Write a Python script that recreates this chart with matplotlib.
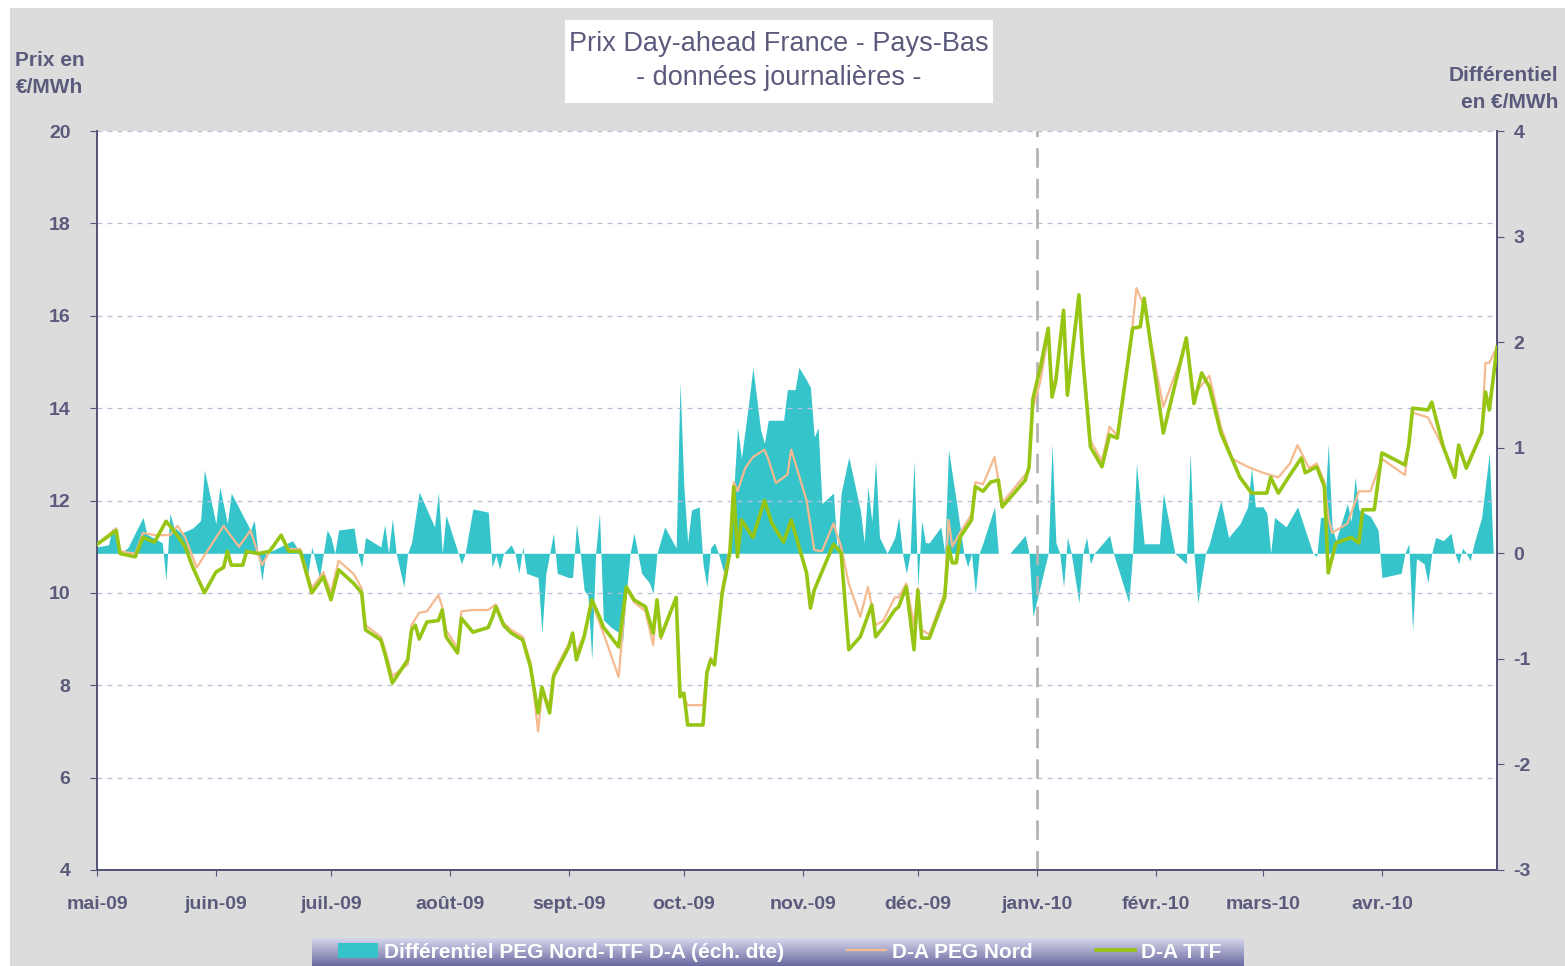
import matplotlib
matplotlib.use("Agg")
import matplotlib.pyplot as plt
from matplotlib.patches import Rectangle
from matplotlib.colors import LinearSegmentedColormap
import numpy as np
import pandas as pd

plt.rcParams["axes.unicode_minus"] = False

# ── data (days since 1 May 2009) ──
start = pd.Timestamp("2009-05-01")

ttf_day = [0, 5, 6, 10, 12, 15, 18, 20, 23, 25,
           28, 31, 33, 34, 35, 38, 39, 42, 45, 48,
           50, 53, 56, 59, 61, 63, 67, 69, 70, 74,
           75, 77, 81, 82, 83, 84, 86, 89, 90, 91,
           94, 95, 98, 102, 103, 104, 106, 108, 111, 113,
           115, 116, 118, 119, 123, 124, 125, 127, 129, 131,
           132, 136, 138, 140, 143, 145, 146, 147, 151, 152,
           153, 154, 158, 159, 160, 161, 163, 165, 166, 167,
           168, 171, 174, 176, 179, 181, 185, 186, 187, 192,
           194, 196, 199, 202, 203, 205, 208, 209, 211, 213,
           214, 215, 217, 221, 222, 223, 224, 225, 228, 229,
           231, 233, 235, 236, 242, 243, 244, 246, 248, 249,
           250, 252, 253, 256, 257, 259, 262, 264, 266, 270,
           272, 273, 278, 284, 286, 288, 290, 293, 298, 301,
           305, 306, 308, 311, 314, 315, 318, 320, 321, 323,
           327, 329, 330, 333, 335, 341, 342, 343, 347, 348,
           351, 354, 355, 357, 361, 362, 363, 365]
ttf_val = [11.05, 11.35, 10.85, 10.78, 11.2, 11.1, 11.55, 11.35, 11.0, 10.55,
           10.0, 10.45, 10.55, 10.9, 10.6, 10.6, 10.9, 10.85, 10.9, 11.25,
           10.9, 10.9, 10.0, 10.35, 9.85, 10.5, 10.2, 10.0, 9.2, 8.98,
           8.7, 8.05, 8.55, 9.2, 9.3, 9.0, 9.37, 9.4, 9.63, 9.05,
           8.7, 9.45, 9.15, 9.25, 9.45, 9.7, 9.3, 9.13, 8.98, 8.4,
           7.4, 7.96, 7.4, 8.18, 8.83, 9.13, 8.55, 9.05, 9.85, 9.48,
           9.26, 8.83, 10.13, 9.85, 9.7, 9.13, 9.85, 9.05, 9.9, 7.75,
           7.83, 7.14, 7.14, 8.27, 8.55, 8.44, 10.0, 10.87, 12.3, 10.78,
           11.58, 11.2, 12.0, 11.5, 11.1, 11.58, 10.43, 9.67, 10.06, 11.05,
           10.87, 8.77, 9.05, 9.74, 9.05, 9.26, 9.63, 9.7, 10.13, 8.77,
           10.06, 9.02, 9.02, 9.9, 11.0, 10.65, 10.65, 11.2, 11.58, 12.3,
           12.2, 12.4, 12.44, 11.86, 12.44, 12.73, 14.2, 14.9, 15.73, 14.24,
           14.6, 16.12, 14.28, 16.45, 15.1, 13.16, 12.73, 13.42, 13.35, 15.73,
           15.76, 16.38, 13.46, 15.52, 14.1, 14.76, 14.46, 13.46, 12.5, 12.16,
           12.16, 12.5, 12.16, 12.55, 12.92, 12.6, 12.73, 12.3, 10.43, 11.08,
           11.2, 11.08, 11.8, 11.8, 13.03, 12.77, 13.2, 14.0, 13.96, 14.13,
           13.16, 12.5, 13.2, 12.7, 13.46, 14.35, 13.96, 15.32]

peg_day = [0, 5, 6, 10, 12, 15, 19, 21, 23, 26,
           33, 37, 40, 43, 45, 48, 50, 53, 56, 59,
           61, 63, 67, 69, 70, 74, 75, 77, 81, 82,
           84, 86, 89, 90, 91, 94, 95, 98, 102, 104,
           106, 108, 111, 113, 115, 116, 118, 119, 123, 124,
           125, 127, 129, 132, 136, 138, 140, 143, 145, 146,
           147, 151, 152, 154, 158, 159, 160, 161, 163, 165,
           166, 167, 169, 171, 174, 175, 177, 180, 181, 185,
           187, 189, 192, 194, 196, 199, 201, 203, 205, 208,
           209, 211, 213, 214, 215, 217, 221, 222, 223, 225,
           228, 229, 231, 234, 236, 243, 244, 246, 248, 249,
           250, 252, 253, 256, 257, 259, 262, 264, 266, 270,
           271, 273, 278, 284, 286, 290, 293, 296, 300, 304,
           308, 311, 313, 316, 318, 320, 321, 322, 326, 329,
           332, 335, 341, 343, 347, 350, 354, 355, 357, 361,
           362, 363, 365]
peg_val = [11.05, 11.4, 10.9, 10.85, 11.3, 11.25, 11.25, 11.45, 11.2, 10.55,
           11.45, 11.0, 11.35, 10.6, 10.9, 11.25, 10.95, 10.95, 10.1, 10.45,
           10.0, 10.7, 10.4, 10.1, 9.3, 9.05, 8.8, 8.2, 8.45, 9.3,
           9.57, 9.6, 9.95, 9.7, 9.2, 8.8, 9.6, 9.63, 9.63, 9.75,
           9.35, 9.2, 9.05, 8.5, 7.0, 7.8, 7.6, 8.25, 8.9, 9.1,
           8.7, 9.1, 9.8, 9.13, 8.18, 10.1, 9.8, 9.6, 8.87, 9.8,
           9.0, 9.9, 7.9, 7.57, 7.57, 8.3, 8.6, 8.45, 10.1, 11.0,
           12.4, 12.2, 12.7, 12.94, 13.1, 12.9, 12.38, 12.56, 13.1, 12.0,
           10.93, 10.9, 11.5, 11.0, 10.2, 9.48, 10.13, 9.3, 9.4, 9.9,
           9.9, 10.2, 9.3, 10.1, 9.2, 9.1, 10.0, 11.58, 11.0, 11.3,
           11.7, 12.4, 12.35, 12.94, 11.95, 12.66, 14.0, 14.6, 15.6, 14.4,
           14.7, 15.9, 14.4, 16.3, 15.2, 13.3, 12.85, 13.6, 13.4, 15.8,
           16.6, 16.2, 14.03, 15.4, 14.3, 14.7, 13.6, 12.9, 12.73, 12.6,
           12.5, 12.8, 13.2, 12.7, 12.8, 12.4, 11.65, 11.3, 11.5, 12.2,
           12.2, 12.9, 12.55, 13.9, 13.8, 13.3, 12.6, 13.1, 12.75, 13.5,
           14.98, 14.98, 15.32]

diff_day = [0, 3, 4, 5, 6, 8, 12, 13, 16, 17,
            18, 19, 20, 22, 25, 27, 28, 31, 32, 34,
            35, 40, 41, 42, 43, 44, 46, 51, 53, 55,
            56, 58, 60, 61, 62, 63, 67, 68, 69, 70,
            74, 75, 76, 77, 78, 80, 81, 82, 84, 88,
            89, 90, 91, 94, 95, 96, 98, 102, 103, 104,
            105, 106, 108, 109, 110, 111, 112, 115, 116, 117,
            119, 120, 123, 124, 125, 126, 127, 128, 129, 130,
            131, 132, 134, 136, 137, 138, 139, 140, 141, 142,
            144, 145, 146, 148, 151, 152, 153, 154, 155, 157,
            158, 159, 160, 161, 162, 164, 165, 167, 168, 170,
            171, 173, 174, 175, 179, 180, 182, 183, 185, 186,
            187, 188, 189, 192, 193, 194, 196, 199, 200, 201,
            202, 203, 204, 206, 208, 209, 210, 211, 212, 213,
            214, 215, 216, 217, 220, 221, 222, 224, 226, 227,
            228, 229, 230, 231, 234, 235, 238, 242, 243, 244,
            248, 249, 250, 251, 252, 253, 254, 256, 257, 258,
            259, 260, 264, 265, 269, 270, 271, 273, 277, 278,
            281, 284, 285, 286, 287, 289, 290, 293, 295, 298,
            300, 301, 302, 304, 305, 306, 307, 310, 313, 317,
            318, 319, 320, 321, 322, 323, 326, 327, 328, 329,
            332, 334, 335, 340, 341, 342, 343, 344, 346, 347,
            348, 349, 351, 353, 354, 355, 356, 357, 358, 359,
            361, 363, 364]
diff_val = [0.06, 0.08, 0.24, 0.15, 0.0, 0.05, 0.34, 0.18, 0.12, 0.1,
            -0.26, 0.38, 0.25, 0.19, 0.24, 0.31, 0.79, 0.28, 0.63, 0.28,
            0.57, 0.22, 0.31, 0.0, -0.26, 0.0, 0.03, 0.12, 0.0, -0.19,
            0.06, -0.23, 0.22, 0.15, 0.0, 0.22, 0.24, 0.0, -0.13, 0.15,
            0.06, 0.27, 0.0, 0.33, 0.0, -0.32, 0.0, 0.1, 0.58, 0.25,
            0.58, 0.0, 0.36, 0.02, -0.1, 0.0, 0.42, 0.39, -0.13, -0.02,
            -0.15, 0.0, 0.08, 0.0, -0.19, 0.06, -0.19, -0.23, -0.76, -0.2,
            0.19, -0.19, -0.23, -0.23, 0.28, 0.0, -0.35, -0.4, -1.01, 0.0,
            0.38, -0.63, -0.7, -0.75, -0.85, -0.38, 0.0, 0.19, 0.0, -0.19,
            -0.28, -0.38, 0.0, 0.25, 0.05, 1.62, 0.63, 0.1, 0.41, 0.44,
            -0.1, -0.32, 0.05, 0.1, 0.0, -0.26, 0.0, 1.19, 0.9, 1.45,
            1.76, 1.17, 1.04, 1.26, 1.26, 1.55, 1.55, 1.76, 1.64, 1.57,
            1.1, 1.19, 0.47, 0.57, 0.0, 0.57, 0.91, 0.41, 0.1, 0.63,
            0.3, 0.88, 0.15, 0.0, 0.15, 0.34, 0.0, -0.19, 0.0, 0.88,
            -0.32, 0.31, 0.1, 0.1, 0.25, 0.0, 0.98, 0.5, 0.0, -0.13,
            0.0, -0.38, 0.0, 0.1, 0.44, 0.0, 0.0, 0.17, 0.0, -0.6,
            0.0, 1.04, 0.1, 0.0, -0.32, 0.15, 0.0, -0.47, 0.0, 0.15,
            -0.1, 0.0, 0.17, 0.0, -0.47, 0.0, 0.85, 0.09, 0.09, 0.57,
            0.0, -0.1, 0.95, 0.0, -0.47, 0.0, 0.09, 0.5, 0.15, 0.28,
            0.44, 0.81, 0.44, 0.44, 0.38, 0.0, 0.34, 0.25, 0.44, 0.0,
            -0.03, 0.34, 0.34, 1.04, 0.25, 0.12, 0.47, 0.3, 0.72, 0.41,
            0.35, 0.22, -0.23, -0.19, 0.0, 0.09, -0.73, -0.05, -0.1, -0.28,
            0.0, 0.15, 0.12, 0.19, 0.0, -0.1, 0.05, 0.0, -0.07, 0.09,
            0.34, 0.95, 0.0]

month_labels = ["mai-09", "juin-09", "juil.-09", "août-09", "sept.-09", "oct.-09",
                "nov.-09", "déc.-09", "janv.-10", "févr.-10", "mars-10", "avr.-10"]

labels = ["Différentiel PEG Nord-TTF D-A (éch. dte)", "D-A PEG Nord", "D-A TTF"]


def to_dates(days):
    return start + pd.to_timedelta(days, unit="D")


# ── style ──
txt_col = "#5A5A7C"
spine_col = "#55557A"
teal = "#35C4CA"
orange = "#F6BA90"
green = "#96C514"
tick_font = ["Liberation Sans", "DejaVu Sans"]

W, H = 1565, 966
fig = plt.figure(figsize=(W / 100, H / 100), dpi=100, facecolor="white")

# grey panel behind everything
fig.add_artist(Rectangle((10 / W, 0), 1, 1 - 8 / H, transform=fig.transFigure,
                         facecolor="#DCDCDC", edgecolor="none", zorder=-10))

# ax2 = base axes (right scale, differential), ax = twin on top (left scale, prices)
ax2 = fig.add_axes([97 / W, 1 - 870 / H, 1400 / W, 739 / H])
ax = ax2.twinx()
ax.yaxis.tick_left()
ax.yaxis.set_label_position("left")
ax2.yaxis.tick_right()
ax.set_zorder(ax2.get_zorder() + 1)
ax.patch.set_visible(False)
ax2.set_facecolor("white")

fill = ax2.fill_between(to_dates(diff_day), diff_val, 0, color=teal, lw=0)
ax2.set_ylim(-3, 4)
ax2.set_yticks(range(-3, 5))

l_peg, = ax.plot(to_dates(peg_day), peg_val, color=orange, lw=1.6, zorder=3)
l_ttf, = ax.plot(to_dates(ttf_day), ttf_val, color=green, lw=2.6, zorder=4)
ax.set_ylim(4, 20)
ax.set_yticks(range(4, 21, 2))
ax.yaxis.grid(True, color="#BDBDDA", ls=(0, (4, 4)), lw=0.9)
ax.set_axisbelow(True)

ax.axvline(pd.Timestamp("2010-01-01"), color="#B4B4B4", ls=(0, (7, 4)), lw=2, zorder=2)

# x axis lives on the base axes (shared with the twin)
ax2.set_xlim(start, pd.Timestamp("2010-05-01"))
month_ticks = pd.date_range(start, periods=len(month_labels), freq="MS")
ax2.set_xticks(month_ticks)
ax2.set_xticklabels(month_labels)

for a in (ax, ax2):
    a.spines["top"].set_visible(False)
    for s in ("left", "right", "bottom"):
        a.spines[s].set_color(spine_col)
        a.spines[s].set_linewidth(1.4)

ax.tick_params(axis="y", direction="out", length=5, color=spine_col, pad=14,
               labelcolor=txt_col, labelsize=14)
ax2.tick_params(axis="y", direction="out", length=5, color=spine_col, pad=7,
                labelcolor=txt_col, labelsize=14)
ax2.tick_params(axis="x", direction="out", length=4, color=spine_col, pad=15,
                labelcolor=txt_col, labelsize=14)
for t in ax.get_yticklabels() + ax2.get_yticklabels() + ax2.get_xticklabels():
    t.set_family(tick_font)
    t.set_fontweight("bold")

# title box
fig.add_artist(Rectangle((565 / W, 1 - 103 / H), 428 / W, 83 / H, transform=fig.transFigure,
                         facecolor="white", edgecolor="none"))
fig.text(779 / W, 1 - 44 / H, "Prix Day-ahead France - Pays-Bas", ha="center", va="center",
         color=txt_col, fontsize=19.5, family=tick_font)
fig.text(779 / W, 1 - 78 / H, "- données journalières -", ha="center", va="center",
         color=txt_col, fontsize=19.5, family=tick_font)

# axis titles
fig.text(50 / W, 1 - 74 / H, "Prix en\n€/MWh", ha="center", va="center", color=txt_col,
         fontsize=15, fontweight="bold", family=tick_font, linespacing=1.55)
fig.text(1558 / W, 1 - 89 / H, "Différentiel\nen €/MWh", ha="right", va="center",
         color=txt_col, fontsize=15, fontweight="bold", family=tick_font, linespacing=1.55,
         multialignment="right")

# legend bar with gradient
lax = fig.add_axes([312 / W, 0, 932 / W, 28 / H])
grad = np.linspace(0, 1, 64).reshape(-1, 1)
lax.imshow(grad, cmap=LinearSegmentedColormap.from_list("bar", ["#D6D6EC", "#6A6AA0"]),
           aspect="auto", extent=[0, 1, 0, 1])
lax.set_axis_off()

leg = fig.legend([fill, l_peg, l_ttf], labels, loc="center",
                 bbox_to_anchor=(780 / W, 1 - 952 / H), ncol=3, frameon=False,
                 handlelength=1.9, handletextpad=0.3, columnspacing=3.0,
                 prop={"family": tick_font, "weight": "bold", "size": 15})
for t in leg.get_texts():
    t.set_color("white")

fig.savefig("out.png", dpi=100, facecolor=fig.get_facecolor())
